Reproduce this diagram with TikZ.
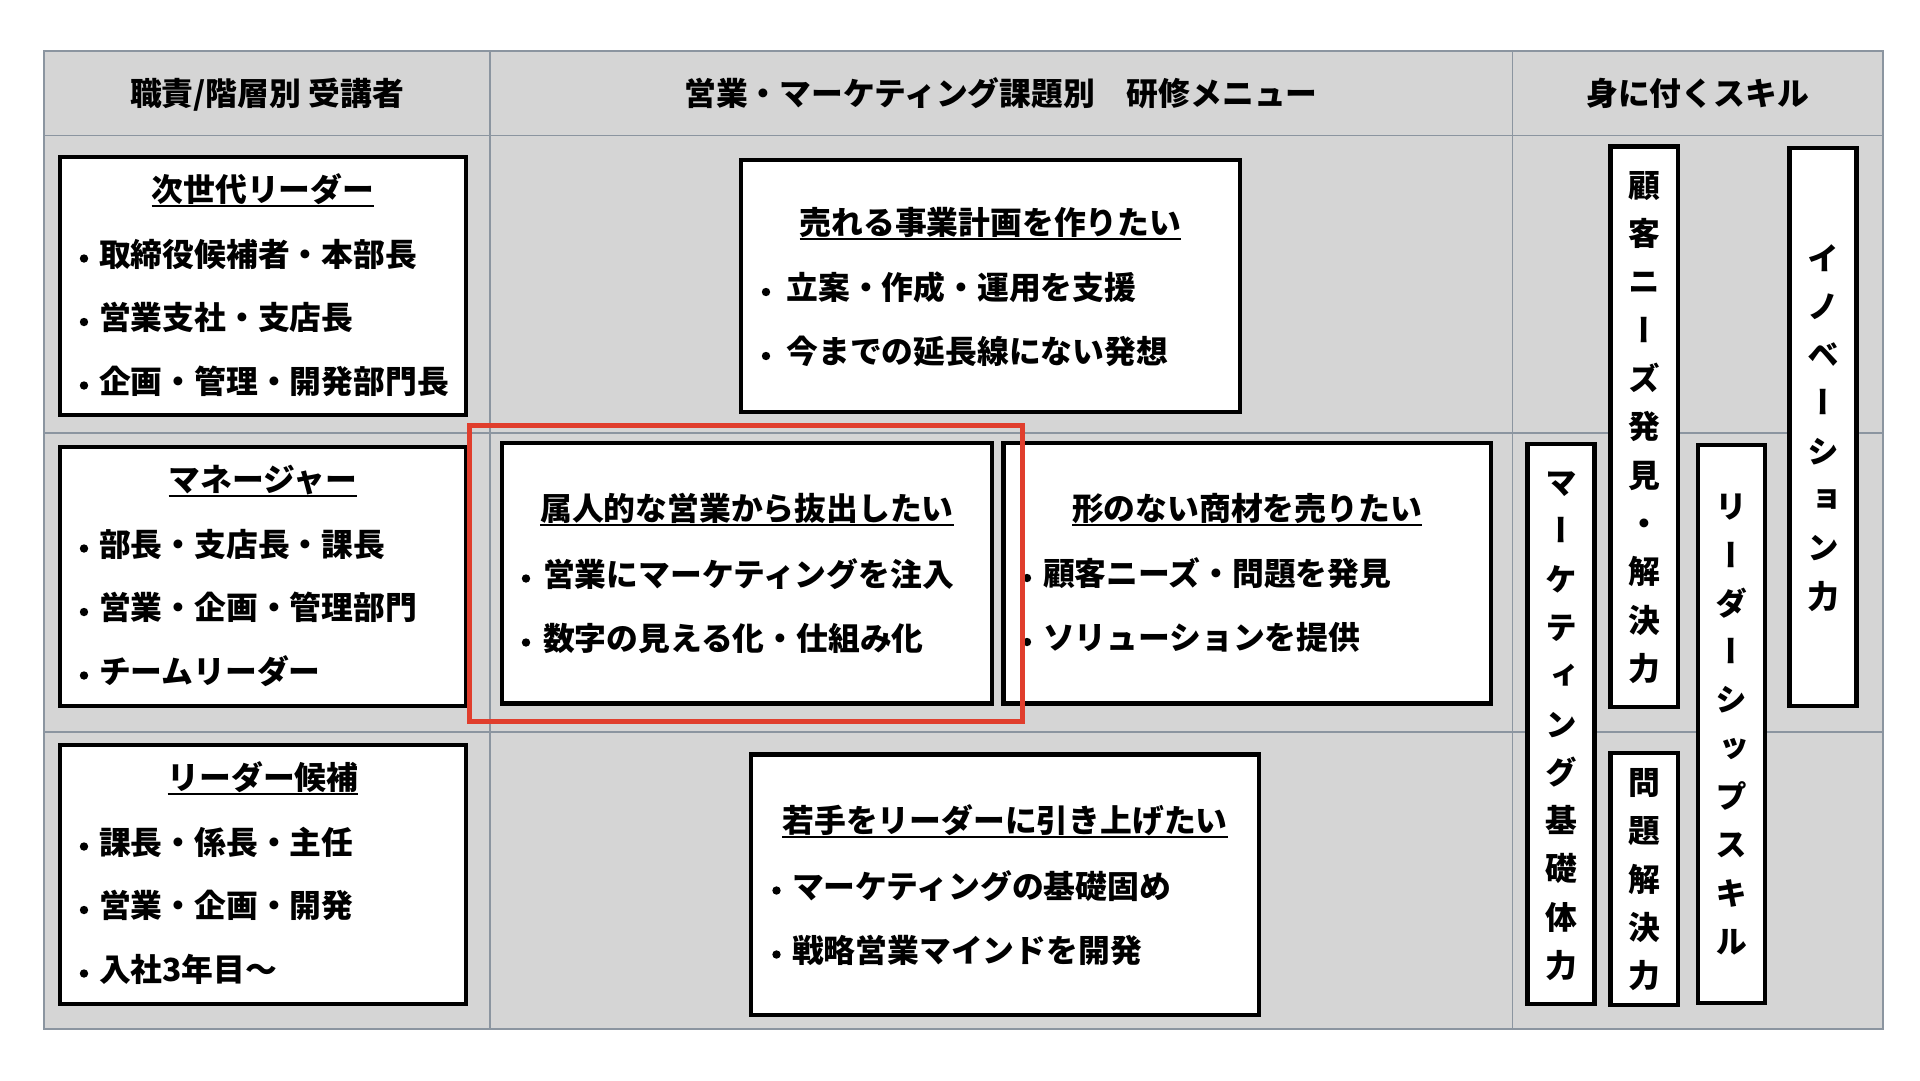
\documentclass[tikz,border=0pt]{standalone}
\usepackage{fontspec}
\setmainfont{Noto Sans CJK JP}
\newfontfamily\jpvert{Noto Sans CJK JP}[RawFeature=+vert]
\definecolor{tablebg}{HTML}{D5D5D5}
\definecolor{gridc}{HTML}{8B95A0}
\definecolor{hired}{HTML}{E03E2D}
% vertical stack of characters, fixed pitch 48.3pt
\newcommand\vstack[1]{\vbox{\offinterlineskip\vstackA#1\relax}}
\def\vstackA#1{\ifx\relax#1\else\hbox to 31.8pt{\hss\vrule height 36.2pt depth 12.1pt width 0pt\relax #1\hss}\expandafter\vstackA\fi}
\begin{document}
\begin{tikzpicture}[x=1pt,y=-1pt,
  every node/.style={inner sep=0pt, outer sep=0pt},
  jp/.style={font=\bfseries\fontsize{31.8}{38}\selectfont, text height=28pt, text depth=3.8pt},
  box/.style={draw=black, line width=4.2pt, fill=white},
  redframe/.style={draw=hired, line width=5pt},
  item/.style={jp, anchor=west},
  ttl/.style={jp, anchor=center},
  uline/.style={line width=2pt},
  vlabel/.style={font=\jpvert\bfseries\fontsize{31.8}{38}\selectfont, anchor=center},
  gridline/.style={draw=gridc, line width=1.5pt}]
\newcommand\panel[6]{\node[#1, minimum width={(#5)-(#3)}, minimum height={(#6)-(#4)}] (#2) at ({((#3)+(#5))/2},{((#4)+(#6))/2}) {};}
\newcommand\titled[4]{\node[ttl] (#1) at (#2,#3) {#4};
  \draw[uline] ([yshift=-16.5pt]#1.west) -- ([yshift=-16.5pt]#1.east);}
\newcommand\bitem[5][15]{\node[item] (#2) at (#3,#4) {#5};
  \fill ([xshift=-#1pt,yshift=-4.5pt]#2.west) circle (4.2pt);}
\useasboundingbox (0,0) rectangle (1920,1080);
\fill[white] (0,0) rectangle (1920,1080);
% table
\fill[tablebg] (44,51) rectangle (1883,1029);
\draw[gridline] (44,51) rectangle (1883,1029);
\draw[gridline] (44,135.5) -- (1883,135.5);
\draw[gridline] (44,433) -- (1883,433);
\draw[gridline] (44,732) -- (1883,732);
\draw[gridline] (490,51) -- (490,1029);
\draw[gridline] (1512.5,51) -- (1512.5,1029);
% headers
\node[ttl] (h1) at (267,93.5) {職責/階層別 受講者};
\node[ttl] (h2) at (1001,93.5) {営業・マーケティング課題別　研修メニュー};
\node[ttl] (h3) at (1697.5,93.5) {身に付くスキル};
% left column
\panel{box}{b1}{60}{157}{466}{415}
\titled{t1}{263}{189}{次世代リーダー}
\bitem{i11}{99}{254}{取締役候補者・本部長}
\bitem{i12}{99}{317.5}{営業支社・支店長}
\bitem{i13}{99}{381}{企画・管理・開発部門長}
\panel{box}{b2}{60}{447}{466}{706}
\titled{t2}{263}{479}{マネージャー}
\bitem{i21}{99}{544}{部長・支店長・課長}
\bitem{i22}{99}{607.5}{営業・企画・管理部門}
\bitem{i23}{99}{671}{チームリーダー}
\panel{box}{b3}{60}{745}{466}{1004}
\titled{t3}{263}{777}{リーダー候補}
\bitem{i31}{99}{842}{課長・係長・主任}
\bitem{i32}{99}{905.5}{営業・企画・開発}
\bitem{i33}{99}{969}{入社3年目〜}
% middle column
\panel{box}{bA}{741}{160}{1240}{412}
\titled{tA}{990.5}{222}{売れる事業計画を作りたい}
\bitem[20.5]{iA1}{786.5}{287.5}{立案・作成・運用を支援}
\bitem[20.5]{iA2}{786.5}{351.5}{今までの延長線にない発想}
\panel{box}{bB}{502}{443}{992}{703.5}
\titled{tB}{747}{508}{属人的な営業から抜出したい}
\bitem[17]{iB1}{543}{574}{営業にマーケティングを注入}
\bitem[17]{iB2}{543}{638}{数字の見える化・仕組み化}
\panel{box}{bC}{1003.5}{443}{1491}{703.5}
\titled{tC}{1247}{508.5}{形のない商材を売りたい}
\bitem[16]{iC1}{1043}{573.5}{顧客ニーズ・問題を発見}
\bitem[16]{iC2}{1043}{637.5}{ソリューションを提供}
\panel{box}{bD}{751}{754.5}{1259}{1015}
\titled{tD}{1005}{820.6}{若手をリーダーに引き上げたい}
\bitem[15.5]{iD1}{792}{886}{マーケティングの基礎固め}
\bitem[15.5]{iD2}{792}{950}{戦略営業マインドを開発}
% focus frame
\panel{redframe}{focus}{469.5}{425}{1022}{721.5}
% skills
\panel{box}{s1}{1610.5}{146.5}{1678}{707}
\node[vlabel] (v1) at (s1.center) {\vstack{顧客ニーズ発見・解決力}};
\panel{box}{s2}{1789.5}{148}{1856.5}{706}
\node[vlabel] (v2) at (s2.center) {\vstack{イノベーション力}};
\panel{box}{s3}{1527.5}{444}{1594.5}{1004}
\node[vlabel] (v3) at (s3.center) {\vstack{マーケティング基礎体力}};
\panel{box}{s4}{1698}{445}{1765}{1003}
\node[vlabel] (v4) at (s4.center) {\vstack{リーダーシップスキル}};
\panel{box}{s5}{1610.5}{753}{1678}{1005}
\node[vlabel] (v5) at (s5.center) {\vstack{問題解決力}};
\end{tikzpicture}
\end{document}
